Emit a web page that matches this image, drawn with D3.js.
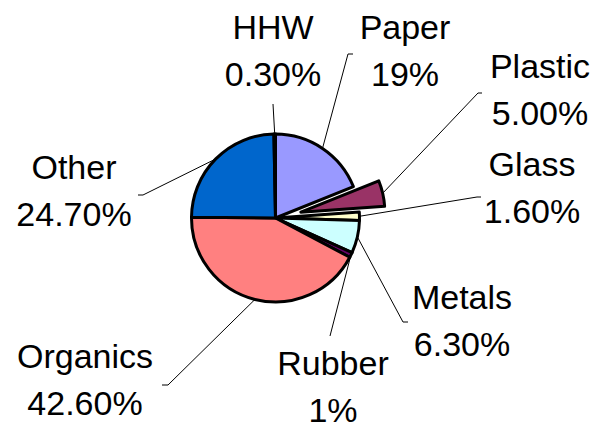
<!DOCTYPE html>
<html>
<head>
<meta charset="utf-8">
<script src="https://cdn.jsdelivr.net/npm/d3@7"></script>
<style>
  body { margin: 0; background: #fff; }
  svg { display: block; }
  .lbl { font-family: "Liberation Sans", Arial, sans-serif; font-size: 34px; fill: #000; }
</style>
</head>
<body>
<div id="chart"></div>
<script>
// data, in the order Excel draws the slices (clockwise from 12 o'clock)
const categories = ["Paper", "Plastic", "Glass", "Metals", "Rubber", "Organics", "Other", "HHW"];
const values = [19, 5, 1.6, 6.3, 1, 42.6, 24.7, 0.3];
const valueLabels = ["19%", "5.00%", "1.60%", "6.30%", "1%", "42.60%", "24.70%", "0.30%"];
const colors = ["#9999FF", "#993366", "#FFFFCC", "#CCFFFF", "#660066", "#FF8080", "#0066CC", "#CCCCFF"];
const exploded = ["Plastic"];

// layout: label centre x / first baseline y, and the elbow where the leader line meets the label
const labelPos = {
  Paper:    { x: 405, y: 39,  elbow: [348, 54],  end: [353, 54] },
  Plastic:  { x: 540, y: 78,  elbow: [478, 93],  end: [482, 93] },
  Glass:    { x: 532, y: 176, elbow: [477, 197], end: [481, 197] },
  Metals:   { x: 462, y: 309, elbow: [403, 322], end: [408, 322] },
  Rubber:   { x: 333, y: 375, elbow: [330, 336], end: [330, 336] },
  Organics: { x: 85,  y: 368, elbow: [168, 385], end: [162, 385] },
  Other:    { x: 74,  y: 179, elbow: [143, 195], end: [138, 195] },
  HHW:      { x: 273, y: 39,  elbow: [273, 104], end: [273, 104] }
};

const width = 599, height = 423;
const cx = 275.5, cy = 218, radius = 84, explode = 26, lineGap = 47;

const svg = d3.select("#chart").append("svg")
    .attr("width", width)
    .attr("height", height);

const data = categories.map((c, i) => ({ name: c, value: values[i], label: valueLabels[i], color: colors[i] }));

const pie = d3.pie().sort(null).value(d => d.value);
const arc = d3.arc().innerRadius(0).outerRadius(radius);
const arcs = pie(data);

const midAngle = d => (d.startAngle + d.endAngle) / 2;
const offset = d => exploded.includes(d.data.name) ? explode : 0;

const g = svg.append("g").attr("transform", "translate(" + cx + "," + cy + ")");

// leader lines first so the slices sit on top
svg.append("g").selectAll("polyline")
  .data(arcs)
  .enter().append("polyline")
    .attr("fill", "none")
    .attr("stroke", "#000")
    .attr("stroke-width", 1)
    .attr("points", d => {
      const a = midAngle(d), r = radius + offset(d);
      const p = [cx + Math.sin(a) * r, cy - Math.cos(a) * r];
      const lp = labelPos[d.data.name];
      return [p, lp.elbow, lp.end].map(q => q.join(",")).join(" ");
    });

g.selectAll("path")
  .data(arcs)
  .enter().append("path")
    .attr("d", arc)
    .attr("transform", d => {
      const a = midAngle(d), o = offset(d);
      return "translate(" + (Math.sin(a) * o) + "," + (-Math.cos(a) * o) + ")";
    })
    .attr("fill", d => d.data.color)
    .attr("stroke", "#000")
    .attr("stroke-width", 3)
    .attr("stroke-linejoin", "round");

const labels = svg.append("g").selectAll("text")
  .data(arcs)
  .enter().append("text")
    .attr("class", "lbl")
    .attr("text-anchor", "middle")
    .attr("x", d => labelPos[d.data.name].x)
    .attr("y", d => labelPos[d.data.name].y);

labels.append("tspan")
    .attr("x", d => labelPos[d.data.name].x)
    .text(d => d.data.name);
labels.append("tspan")
    .attr("x", d => labelPos[d.data.name].x)
    .attr("dy", lineGap)
    .text(d => d.data.label);
</script>
</body>
</html>
